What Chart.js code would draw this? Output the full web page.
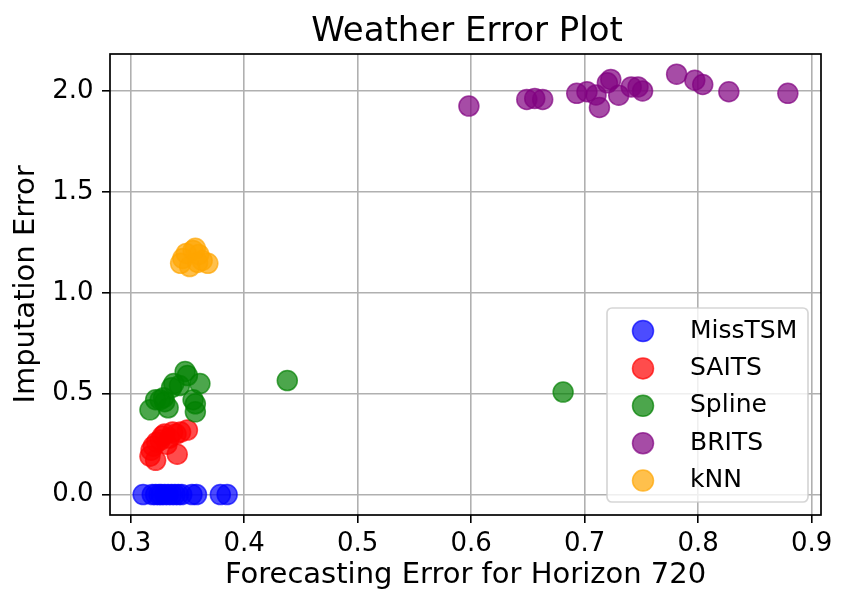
<!DOCTYPE html>
<html>
<head>
<meta charset="utf-8">
<script src="https://cdn.jsdelivr.net/npm/chart.js@4.4.1/dist/chart.umd.min.js"></script>
<style>
  html, body { margin: 0; padding: 0; background: #fff; }
  canvas { display: block; }
</style>
</head>
<body>
<canvas id="errChart" width="847" height="608"></canvas>
<script>
// values
const seriesNames = ["MissTSM", "SAITS", "Spline", "BRITS", "kNN"];
const seriesColors = ["0,0,255", "255,0,0", "0,128,0", "128,0,128", "255,165,0"];

const missTsmX = [0.311, 0.319, 0.322, 0.325, 0.327, 0.330, 0.333, 0.336, 0.339, 0.342, 0.345, 0.354, 0.358, 0.379, 0.385];
const missTsmY = [0, 0, 0, 0, 0, 0, 0, 0, 0, 0, 0, 0, 0, 0, 0];

const saitsX = [0.317, 0.318, 0.320, 0.322, 0.323, 0.326, 0.328, 0.330, 0.332, 0.334, 0.337, 0.340, 0.341, 0.344, 0.350];
const saitsY = [0.19, 0.22, 0.24, 0.17, 0.26, 0.27, 0.29, 0.30, 0.25, 0.28, 0.31, 0.30, 0.20, 0.31, 0.32];

const splineX = [0.317, 0.322, 0.326, 0.329, 0.330, 0.333, 0.336, 0.338, 0.343, 0.348, 0.350, 0.355, 0.357, 0.357, 0.361, 0.438, 0.681];
const splineY = [0.42, 0.47, 0.47, 0.48, 0.46, 0.43, 0.53, 0.55, 0.54, 0.61, 0.59, 0.47, 0.45, 0.41, 0.55, 0.565, 0.508];

const britsX = [0.598, 0.649, 0.656, 0.663, 0.693, 0.702, 0.710, 0.713, 0.720, 0.723, 0.730, 0.741, 0.747, 0.751, 0.781, 0.797, 0.804, 0.827, 0.879];
const britsY = [1.925, 1.958, 1.963, 1.958, 1.988, 1.996, 1.980, 1.918, 2.040, 2.057, 1.979, 2.020, 2.020, 2.000, 2.083, 2.053, 2.032, 1.996, 1.988];

const knnX = [0.344, 0.346, 0.349, 0.352, 0.355, 0.357, 0.359, 0.360, 0.363, 0.368];
const knnY = [1.146, 1.170, 1.195, 1.130, 1.210, 1.220, 1.150, 1.190, 1.160, 1.146];

const xTicks = [0.3, 0.4, 0.5, 0.6, 0.7, 0.8, 0.9];
const yTicks = [0.0, 0.5, 1.0, 1.5, 2.0];

const FONT = "'DejaVu Sans', sans-serif";
const allX = [missTsmX, saitsX, splineX, britsX, knnX];
const allY = [missTsmY, saitsY, splineY, britsY, knnY];

const datasets = seriesNames.map((name, i) => ({
  label: name,
  data: allX[i].map((x, j) => ({ x: x, y: allY[i][j] })),
  backgroundColor: "rgba(" + seriesColors[i] + ",0.7)",
  borderColor: "rgba(" + seriesColors[i] + ",0.7)",
  borderWidth: 1.5,
  pointRadius: 10,
  pointHoverRadius: 10,
  order: seriesNames.length - i  // later series on top, like matplotlib
}));

// plot title, frame and legend box drawn on top
const extras = {
  id: "extras",
  afterDraw(chart) {
    const ctx = chart.ctx;
    const a = chart.chartArea;
    ctx.save();
    ctx.strokeStyle = "#000";
    ctx.lineWidth = 1.7;
    ctx.strokeRect(a.left, a.top, a.right - a.left, a.bottom - a.top);

    ctx.fillStyle = "#000";
    ctx.font = "34px " + FONT;
    ctx.textAlign = "center";
    ctx.textBaseline = "alphabetic";
    ctx.fillText("Weather Error Plot", (a.left + a.right) / 2 + 1.5, 41);

    // legend
    const bx = 607, by = 308, bw = 201, bh = 194;
    ctx.beginPath();
    ctx.roundRect(bx, by, bw, bh, 5);
    ctx.fillStyle = "rgba(255,255,255,0.8)";
    ctx.fill();
    ctx.strokeStyle = "rgba(204,204,204,0.8)";
    ctx.lineWidth = 1.7;
    ctx.stroke();
    ctx.font = "25px " + FONT;
    ctx.textAlign = "left";
    seriesNames.forEach((name, i) => {
      const cy = 331 + i * 37.4;
      ctx.beginPath();
      ctx.arc(643, cy, 10.5, 0, Math.PI * 2);
      ctx.fillStyle = "rgba(" + seriesColors[i] + ",0.7)";
      ctx.fill();
      ctx.strokeStyle = "rgba(" + seriesColors[i] + ",0.7)";
      ctx.lineWidth = 1.5;
      ctx.stroke();
      ctx.fillStyle = "#000";
      ctx.fillText(name, 690, cy + 6.5);
    });
    ctx.restore();
  }
};

new Chart(document.getElementById("errChart").getContext("2d"), {
  type: "scatter",
  data: { datasets: datasets },
  options: {
    responsive: false,
    animation: false,
    layout: { padding: { left: 0, right: 26, top: 54, bottom: 0 } },
    plugins: {
      legend: { display: false },
      title: { display: false },
      tooltip: { enabled: false }
    },
    scales: {
      x: {
        type: "linear",
        min: 0.2818,
        max: 0.9082,
        z: 1,
        afterFit: (s) => { s.height = 93; },
        afterBuildTicks: (s) => { s.ticks = xTicks.map(v => ({ value: v })); },
        grid: { color: "#b0b0b0", lineWidth: 1.6, tickColor: "#000", tickLength: 8, tickWidth: 1.6 },
        border: { display: false },
        ticks: {
          color: "#000",
          font: { family: FONT, size: 26 },
          padding: 6,
          maxRotation: 0,
          callback: (v) => v.toFixed(1)
        },
        title: {
          display: true,
          text: "Forecasting Error for Horizon 720",
          color: "#000",
          font: { family: FONT, size: 29 },
          padding: { top: 0, bottom: 15 }
        }
      },
      y: {
        type: "linear",
        min: -0.101,
        max: 2.183,
        z: 1,
        afterFit: (s) => { s.width = 110; },
        afterBuildTicks: (s) => { s.ticks = yTicks.map(v => ({ value: v })); },
        grid: { color: "#b0b0b0", lineWidth: 1.6, tickColor: "#000", tickLength: 8, tickWidth: 1.6 },
        border: { display: false },
        ticks: {
          color: "#000",
          font: { family: FONT, size: 26 },
          padding: 8.5,
          callback: (v) => v.toFixed(1)
        },
        title: {
          display: true,
          text: "Imputation Error",
          color: "#000",
          font: { family: FONT, size: 29 },
          padding: { top: 9, bottom: 0 }
        }
      }
    }
  },
  plugins: [extras]
});
</script>
</body>
</html>
